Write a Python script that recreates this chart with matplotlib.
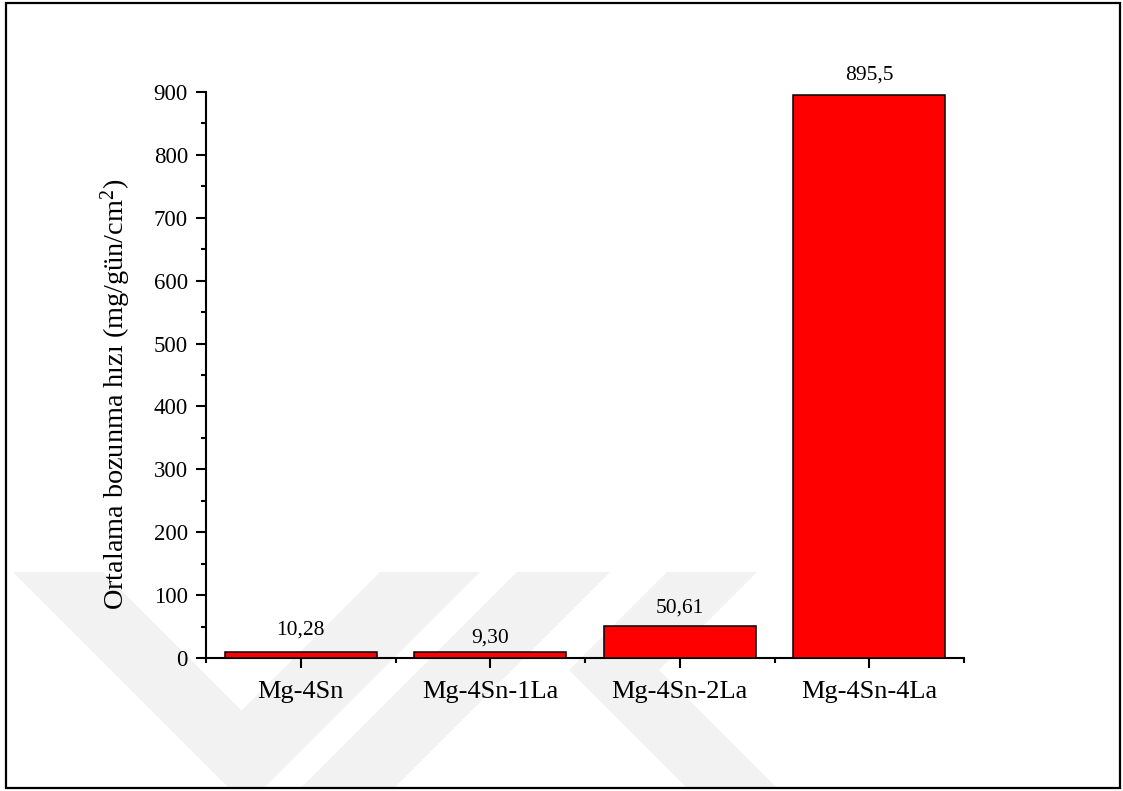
import matplotlib
matplotlib.use("Agg")
import matplotlib.pyplot as plt
from matplotlib.patches import Polygon, Rectangle
from matplotlib.ticker import MultipleLocator, FixedLocator

plt.rcParams['font.family'] = ['Liberation Serif', 'DejaVu Serif']
plt.rcParams['mathtext.fontset'] = 'custom'
plt.rcParams['mathtext.rm'] = 'Liberation Serif'
plt.rcParams['mathtext.it'] = 'Liberation Serif:italic'
plt.rcParams['mathtext.bf'] = 'Liberation Serif:bold'

# Data
alloys = ["Mg-4Sn", "Mg-4Sn-1La", "Mg-4Sn-2La", "Mg-4Sn-4La"]
rates = [10.28, 9.30, 50.61, 895.5]
rate_labels = ["10,28", "9,30", "50,61", "895,5"]

# label offsets above each bar (points)
label_offsets = [12.0, 7.2, 9.9, 10.8]

W, H = 1123, 791
fig = plt.figure(figsize=(W / 100, H / 100), dpi=100)
fig.patch.set_facecolor("white")


def px(x, y):
    return (x / W, 1 - y / H)


# faint background watermark
wm_color = "#f2f2f2"
wm_shapes = [
    [(13, 572), (103, 572), (241.5, 710.5), (380, 572), (480, 572), (264, 788), (229, 788)],
    [(517, 572), (610, 572), (394, 788), (301, 788)],
    [(667, 572), (757, 572), (659, 670), (777, 788), (687, 788), (569, 670)],
]
for shp in wm_shapes:
    fig.patches.append(Polygon([px(*p) for p in shp], closed=True, transform=fig.transFigure,
                               facecolor=wm_color, edgecolor="none", zorder=-5))

# outer frame
x0, y0 = px(6, 788)
x1, y1 = px(1120, 3)
fig.patches.append(Rectangle((x0, y0), x1 - x0, y1 - y0, transform=fig.transFigure,
                             fill=False, edgecolor="black", linewidth=1.6, zorder=5))

ax_l, ax_r = 206 / W, 964 / W
ax_b, ax_t = 1 - 658 / H, 1 - 92 / H
ax = fig.add_axes([ax_l, ax_b, ax_r - ax_l, ax_t - ax_b])
ax.patch.set_alpha(0)

pos = list(range(len(alloys)))
bars = ax.bar(pos, rates, width=0.8, color="#ff0000", edgecolor="black", linewidth=1.1, zorder=3)

for b, lab, off in zip(bars, rate_labels, label_offsets):
    ax.annotate(lab, (b.get_x() + b.get_width() / 2, b.get_height()),
                xytext=(0, off), textcoords="offset points",
                ha="center", va="baseline", fontsize=15.5)

ax.set_xlim(-0.5, 3.5)
ax.set_ylim(0, 900)

for s in ["top", "right"]:
    ax.spines[s].set_visible(False)
for s in ["left", "bottom"]:
    ax.spines[s].set_linewidth(1.5)

ax.set_xticks(pos)
ax.set_xticklabels(alloys, fontsize=19)
ax.xaxis.set_minor_locator(FixedLocator([-0.5, 0.5, 1.5, 2.5, 3.5]))
ax.yaxis.set_major_locator(MultipleLocator(100))
ax.yaxis.set_minor_locator(MultipleLocator(50))
ax.tick_params(axis="both", which="major", direction="out", length=7, width=1.5)
ax.tick_params(axis="both", which="minor", direction="out", length=3.8, width=1.5)
ax.tick_params(axis="y", which="major", labelsize=16.5, pad=6)
ax.tick_params(axis="x", which="major", pad=9.5)

ax.set_ylabel("Ortalama bozunma hızı (mg/gün/cm$^{2}$)", fontsize=20.3)
ax.yaxis.set_label_coords(-0.096, 0.466)

fig.savefig("out.png", dpi=100, facecolor="white")
